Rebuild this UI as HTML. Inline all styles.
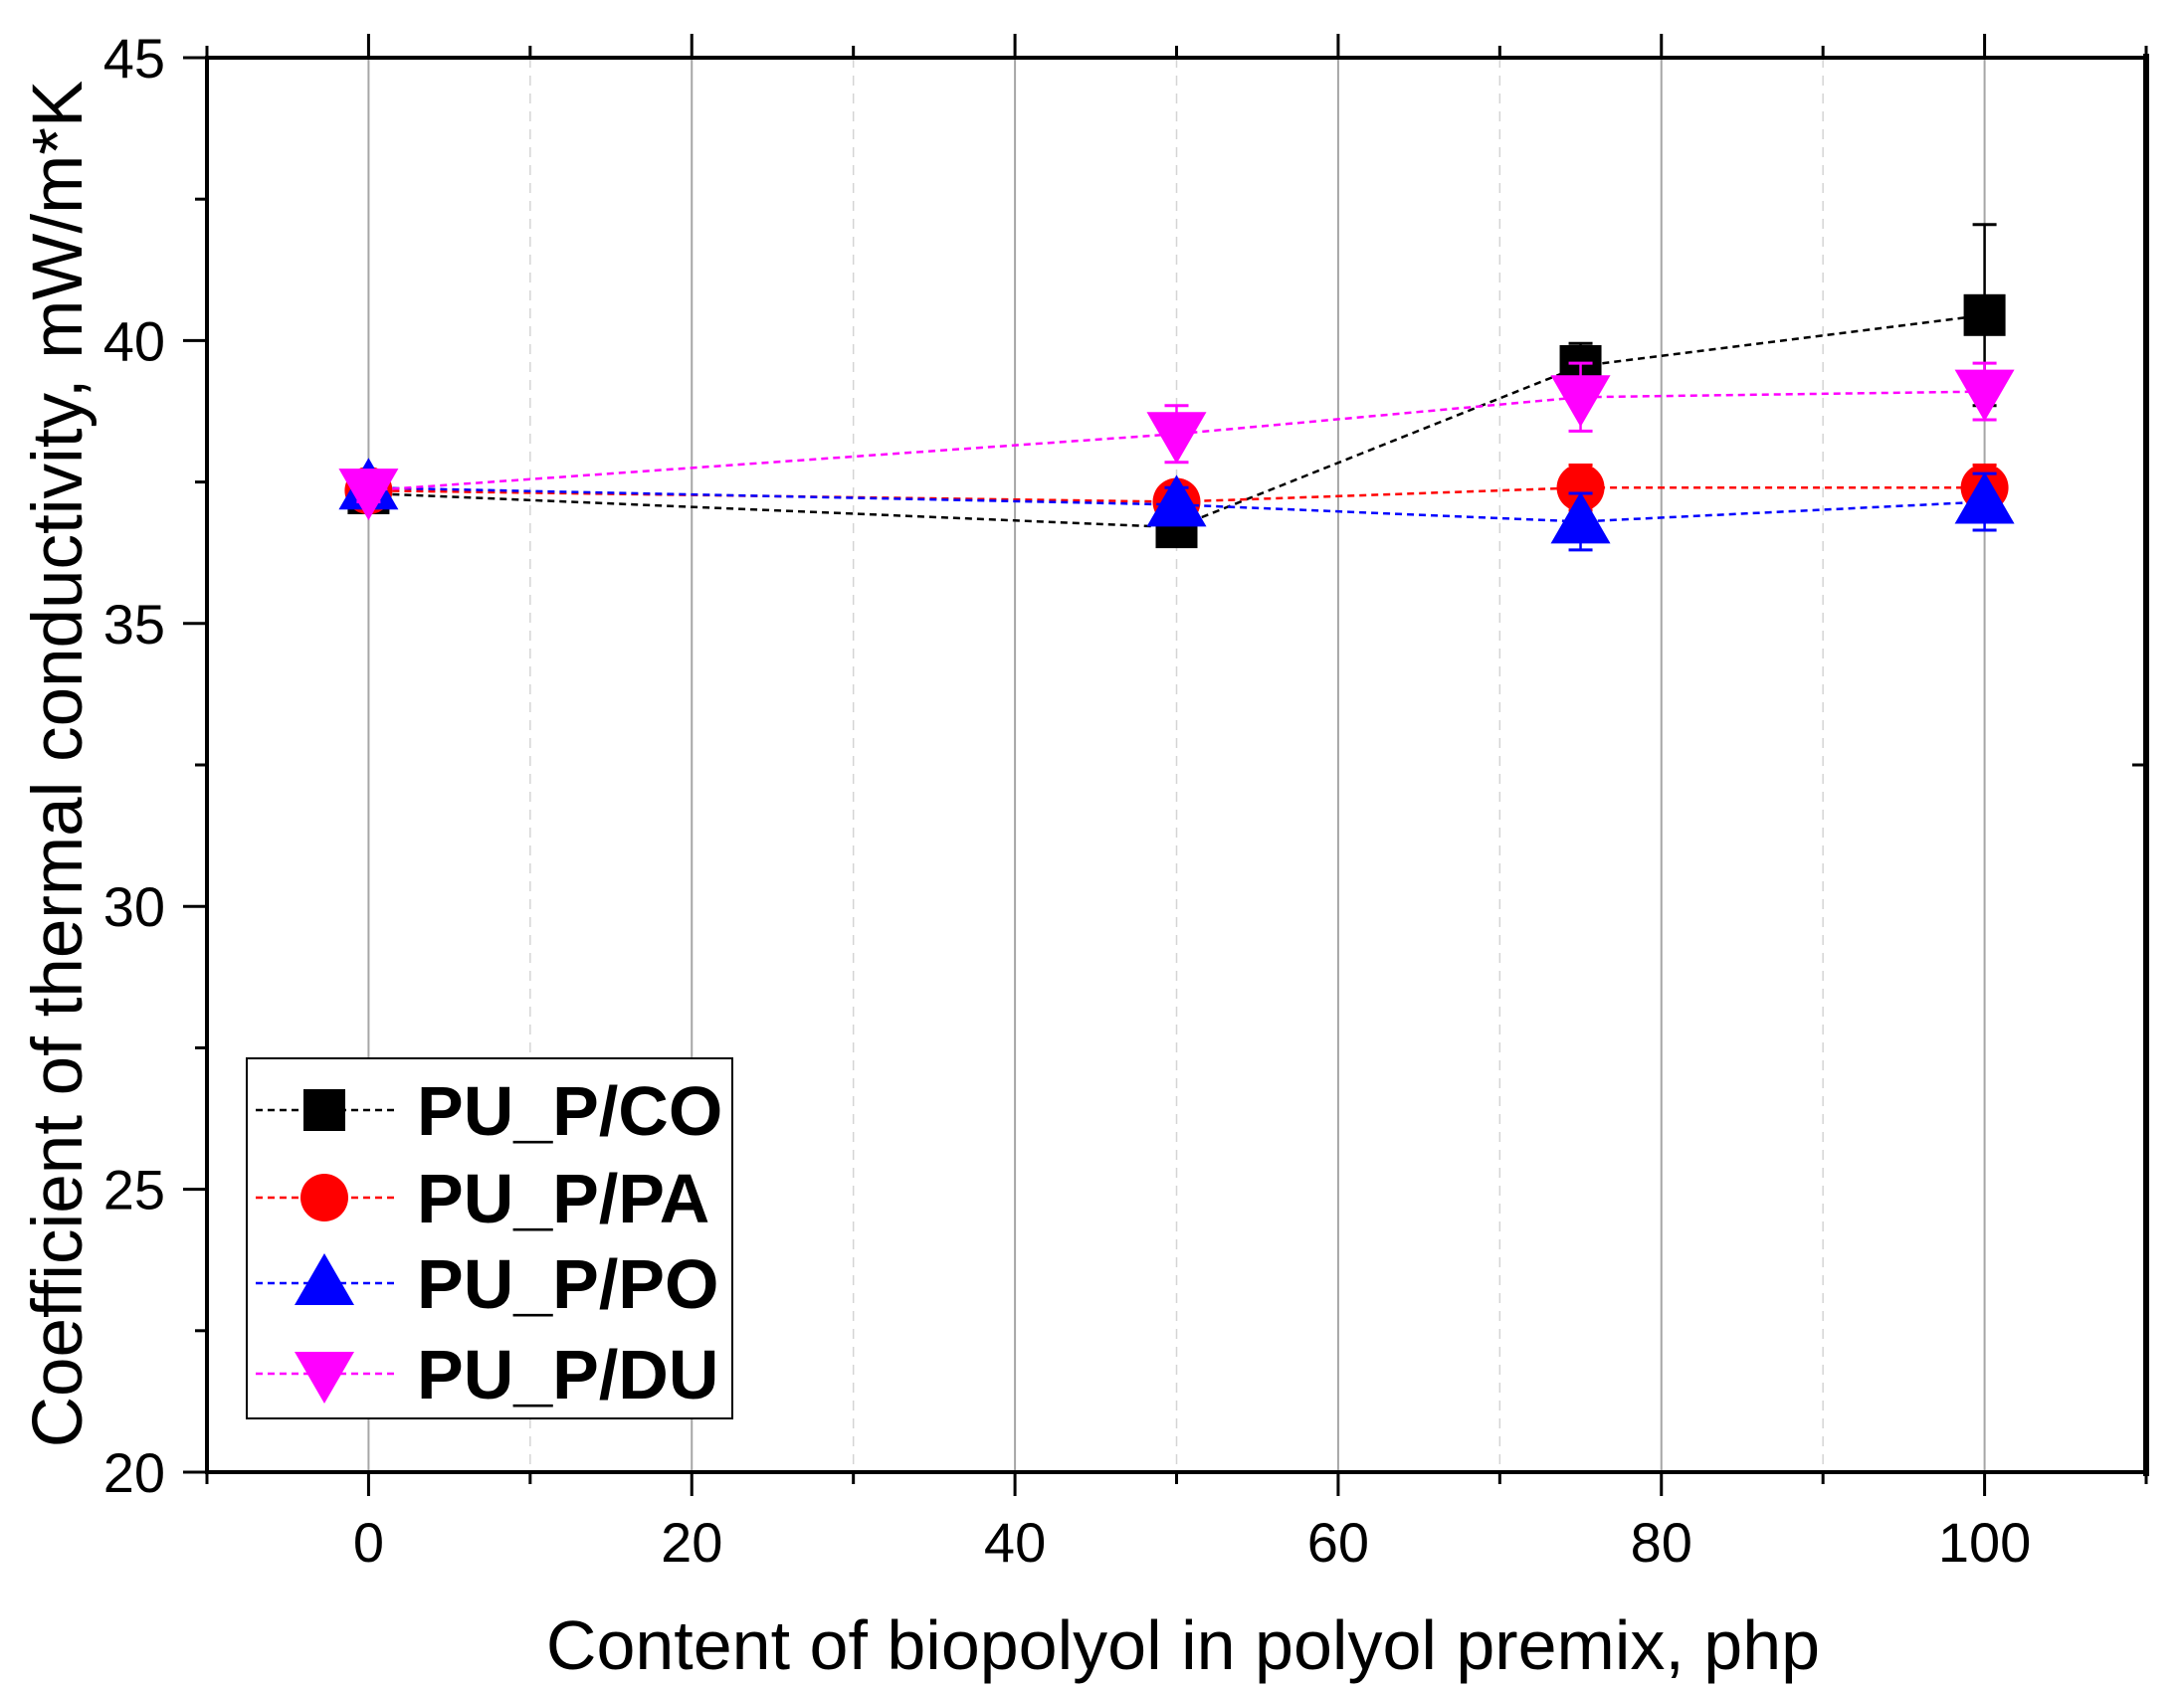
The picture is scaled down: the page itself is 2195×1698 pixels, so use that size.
<!DOCTYPE html>
<html><head><meta charset="utf-8"><style>
html,body{margin:0;padding:0;background:#fff;}
svg{display:block;font-family:"Liberation Sans",Arial,sans-serif;}
</style></head><body>
<svg id="chart" width="2195" height="1698" viewBox="0 0 2195 1698"></svg>
<script>
const xValues = [0, 50, 75, 100];
const seriesNames = ["PU_P/CO", "PU_P/PA", "PU_P/PO", "PU_P/DU"];
const seriesCO = [37.3, 36.7, 39.55, 40.45];
const seriesPA = [37.35, 37.15, 37.4, 37.4];
const seriesPO = [37.4, 37.1, 36.8, 37.15];
const seriesDU = [37.35, 38.35, 39.0, 39.1];
const errCO = [0.3, 0.3, 0.4, 1.6];
const errPA = [0.2, 0.3, 0.4, 0.4];
const errPO = [0.3, 0.3, 0.5, 0.5];
const errDU = [0.2, 0.5, 0.6, 0.5];
const xTicks = [0, 20, 40, 60, 80, 100];
const yTicks = [20, 25, 30, 35, 40, 45];

const svg = document.getElementById('chart');
const NS = 'http://www.w3.org/2000/svg';
const L = 208, R = 2157, T = 58, B = 1480;
const X = v => L + (v + 10) / 120 * (R - L);
const Y = v => B - (v - 20) / 25 * (B - T);
function mk(tag, attrs, parent) {
  const e = document.createElementNS(NS, tag);
  for (const k in attrs) e.setAttribute(k, attrs[k]);
  (parent || svg).appendChild(e);
  return e;
}
for (let v = 0; v <= 100; v += 10) {
  const major = v % 20 === 0;
  const g = mk('line', {x1: X(v), x2: X(v), y1: T, y2: B, stroke: major ? '#a6a6a6' : '#d4d4d4', 'stroke-width': major ? 2 : 1.5, 'stroke-dasharray': major ? 'none' : '10 8'});
  
  
}
const frame = mk('rect', {x: L, y: T, width: R - L, height: B - T, fill: 'none', stroke: '#000', 'stroke-width': 4});


mk('line', {x1: R, x2: R, y1: T - 4, y2: B + 4, stroke: '#000', 'stroke-width': 6});
mk('line', {x1: R, x2: R - 14, y1: Y(32.5), y2: Y(32.5), stroke: '#000', 'stroke-width': 3});
for (let v = -10; v <= 110; v += 10) {
  const major = v % 20 === 0;
  const len = major ? 24 : 12;
  mk('line', {x1: X(v), x2: X(v), y1: B, y2: B + len, stroke: '#000', 'stroke-width': 3});
  mk('line', {x1: X(v), x2: X(v), y1: T, y2: T - len, stroke: '#000', 'stroke-width': 3});
}
xTicks.forEach(v => {
  const t = mk('text', {x: X(v), y: 1570, 'text-anchor': 'middle', 'font-size': 56});
  t.textContent = v;
  
  
});
for (let v = 20; v <= 45; v += 2.5) {
  const major = v % 5 === 0;
  const len = major ? 24 : 12;
  mk('line', {x1: L, x2: L - len, y1: Y(v), y2: Y(v), stroke: '#000', 'stroke-width': 3});
}
yTicks.forEach(v => {
  const t = mk('text', {x: 166, y: Y(v) + 20, 'text-anchor': 'end', 'font-size': 56});
  t.textContent = v;
  
  
});
const xt = mk('text', {x: 1189, y: 1678, 'text-anchor': 'middle', 'font-size': 70});
xt.textContent = 'Content of biopolyol in polyol premix, php';


const yt = mk('text', {x: 0, y: 0, 'text-anchor': 'middle', 'font-size': 71, transform: 'translate(82,768) rotate(-90)'});
yt.textContent = 'Coefficient of thermal conductivity, mW/m*K';



function marker(shape, cx, cy, color, parent) {
  const s = 21;
  if (shape === 'square') return mk('rect', {x: cx - s, y: cy - s, width: 2 * s, height: 2 * s, fill: color}, parent);
  if (shape === 'circle') return mk('circle', {cx: cx, cy: cy, r: s + 3, fill: color}, parent);
  if (shape === 'up') return mk('polygon', {points: `${cx},${cy - 30} ${cx - 30},${cy + 22} ${cx + 30},${cy + 22}`, fill: color}, parent);
  return mk('polygon', {points: `${cx},${cy + 30} ${cx - 30},${cy - 22} ${cx + 30},${cy - 22}`, fill: color}, parent);
}
const series = [
  {name: seriesNames[0], vals: seriesCO, errs: errCO, color: '#000000', shape: 'square', key: 'co'},
  {name: seriesNames[1], vals: seriesPA, errs: errPA, color: '#ff0000', shape: 'circle', key: 'pa'},
  {name: seriesNames[2], vals: seriesPO, errs: errPO, color: '#0000ff', shape: 'up', key: 'po'},
  {name: seriesNames[3], vals: seriesDU, errs: errDU, color: '#ff00ff', shape: 'down', key: 'du'}
];
series.forEach(s => {
  const g = mk('g', {});
  
  
  const pts = xValues.map((x, i) => X(x) + ',' + Y(s.vals[i])).join(' ');
  mk('polyline', {points: pts, fill: 'none', stroke: s.color, 'stroke-width': 2.5, 'stroke-dasharray': '7 5'}, g);
  xValues.forEach((x, i) => {
    const cx = X(x), y1 = Y(s.vals[i] + s.errs[i]), y2 = Y(s.vals[i] - s.errs[i]);
    mk('line', {x1: cx, x2: cx, y1: y1, y2: y2, stroke: s.color, 'stroke-width': 2.5}, g);
    mk('line', {x1: cx - 12, x2: cx + 12, y1: y1, y2: y1, stroke: s.color, 'stroke-width': 3}, g);
    mk('line', {x1: cx - 12, x2: cx + 12, y1: y2, y2: y2, stroke: s.color, 'stroke-width': 3}, g);
    const m = marker(s.shape, cx, Y(s.vals[i]), s.color, g);
    
    
  });
});
const lg = mk('g', {});


mk('rect', {x: 248, y: 1064, width: 488, height: 362, fill: '#fff', stroke: '#000', 'stroke-width': 2}, lg);
const ly = [1116, 1204, 1290, 1381];
series.forEach((s, i) => {
  const e = mk('g', {}, lg);
  
  
  mk('line', {x1: 257, x2: 397, y1: ly[i], y2: ly[i], stroke: s.color, 'stroke-width': 2.5, 'stroke-dasharray': '7 5'}, e);
  marker(s.shape, 326, ly[i], s.color, e);
  const t = mk('text', {x: 419, y: ly[i] + 25, 'font-size': 70, 'font-weight': 'bold'}, e);
  t.textContent = s.name;
});
</script>
</body></html>
